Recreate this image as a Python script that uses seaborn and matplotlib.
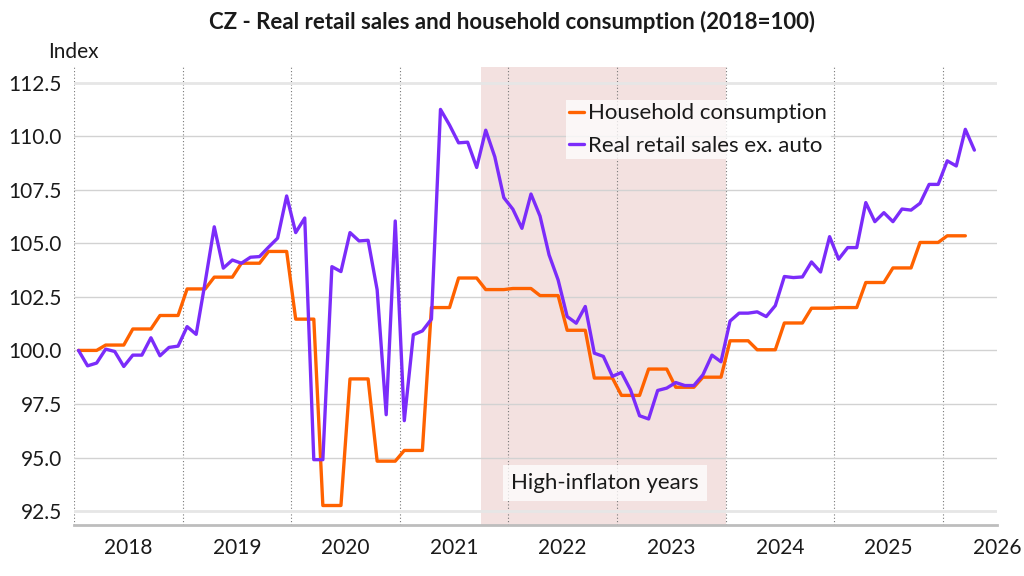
import numpy as np
import pandas as pd
import matplotlib
matplotlib.use("Agg")
import matplotlib.pyplot as plt
import seaborn as sns

# ---------------- data ----------------
title = "CZ - Real retail sales and household consumption (2018=100)"
y_axis_title = "Index"
series_names = ["Household consumption", "Real retail sales ex. auto"]
year_labels = ["2018", "2019", "2020", "2021", "2022", "2023", "2024", "2025", "2026"]
y_ticks = [92.5, 95.0, 97.5, 100.0, 102.5, 105.0, 107.5, 110.0, 112.5]
shade_label = "High-inflaton years"
shade_start_month = 45   # Oct 2021 (months since Jan 2018)
shade_end_month = 72     # end of 2023

# monthly real retail sales ex. auto, Jan 2018 onwards
retail_sales = [
    100.00, 99.28, 99.41, 100.06, 99.95, 99.25, 99.78, 99.78, 100.59, 99.75, 100.14, 100.20,   # 2018
    101.11, 100.75, 103.20, 105.77, 103.84, 104.22, 104.07, 104.35, 104.38, 104.82, 105.24, 107.21,  # 2019
    105.50, 106.18, 94.90, 94.90, 103.91, 103.68, 105.50, 105.11, 105.14, 102.83, 97.00, 106.04,  # 2020
    96.72, 100.73, 100.91, 101.46, 111.25, 110.52, 109.69, 109.72, 108.54, 110.28, 109.04, 107.13,  # 2021
    106.59, 105.70, 107.30, 106.27, 104.46, 103.29, 101.58, 101.27, 102.05, 99.87, 99.72, 98.79,  # 2022
    98.97, 98.16, 96.95, 96.80, 98.13, 98.24, 98.50, 98.36, 98.36, 98.86, 99.78, 99.47,  # 2023
    101.37, 101.74, 101.74, 101.80, 101.58, 102.09, 103.45, 103.40, 103.43, 104.13, 103.66, 105.31,  # 2024
    104.26, 104.80, 104.80, 106.90, 106.01, 106.43, 106.01, 106.60, 106.55, 106.87, 107.75, 107.75,  # 2025
    108.85, 108.61, 110.32, 109.35,  # 2026
]

# household consumption (quarterly values shown for each month), Jan 2018 onwards
household_consumption = [
    100.00, 100.00, 100.00, 100.25, 100.25, 100.25, 101.00, 101.00, 101.00, 101.63, 101.63, 101.63,  # 2018
    102.87, 102.87, 102.87, 103.42, 103.42, 103.42, 104.07, 104.07, 104.07, 104.62, 104.62, 104.62,  # 2019
    101.46, 101.46, 101.46, 92.76, 92.76, 92.76, 98.67, 98.67, 98.67, 94.83, 94.83, 94.83,  # 2020
    95.33, 95.33, 95.33, 102.00, 102.00, 102.00, 103.38, 103.38, 103.38, 102.84, 102.84, 102.84,  # 2021
    102.89, 102.89, 102.89, 102.56, 102.56, 102.56, 100.94, 100.94, 100.94, 98.71, 98.71, 98.71,  # 2022
    97.90, 97.90, 97.90, 99.13, 99.13, 99.13, 98.28, 98.28, 98.28, 98.75, 98.75, 98.75,  # 2023
    100.45, 100.45, 100.45, 100.03, 100.03, 100.03, 101.28, 101.28, 101.28, 101.97, 101.97, 101.97,  # 2024
    102.00, 102.00, 102.00, 103.17, 103.17, 103.17, 103.85, 103.85, 103.85, 105.04, 105.04, 105.04,  # 2025
    105.35, 105.35, 105.35,  # 2026
]

# ---------------- styling ----------------
ORANGE = "#FF6200"
PURPLE = "#7B2CFA"
SHADE = "#F3E1E0"
TEXT = "#1A1A1A"

sns.set_theme(style="white")
plt.rcParams["font.family"] = ["Lato", "DejaVu Sans"]
plt.rcParams["text.color"] = TEXT
plt.rcParams["axes.labelcolor"] = TEXT
plt.rcParams["xtick.color"] = TEXT
plt.rcParams["ytick.color"] = TEXT

# long-form table
frames = []
for name, vals in zip(series_names, [household_consumption, retail_sales]):
    frames.append(pd.DataFrame({
        "month": np.arange(len(vals)) + 0.5,   # centre of each monthly slot
        "value": vals,
        "series": name,
    }))
df = pd.concat(frames, ignore_index=True)

fig = plt.figure(figsize=(10.24, 5.76), dpi=100)
ax = fig.add_axes([74 / 1024, 51 / 576, 923 / 1024, 458 / 576])

ax.axvspan(shade_start_month, shade_end_month, color=SHADE, lw=0, zorder=0)

sns.lineplot(data=df, x="month", y="value", hue="series", hue_order=series_names,
             palette=[ORANGE, PURPLE], linewidth=2.4, ax=ax, zorder=3)

ax.set_xlim(0, 102)
ax.set_ylim(91.85, 113.23)
ax.set_xlabel("")
ax.set_ylabel("")

# y axis
ax.set_yticks(y_ticks)
ax.set_yticklabels([f"{v:.1f}" for v in y_ticks])
ax.tick_params(axis="y", length=0, pad=8.6, labelsize=15)
ax.yaxis.grid(True, color="#D2D2D2", linewidth=1.0)

# x axis: year boundaries as major ticks, labels centred in each year
ax.set_xticks(np.arange(0, 97, 12))
ax.set_xticklabels([])
ax.set_xticks(np.arange(6, 103, 12), minor=True)
ax.set_xticklabels(year_labels, minor=True)
ax.tick_params(axis="x", which="major", length=6, width=1, color="#BDBDBD")
ax.tick_params(axis="x", which="minor", length=0, pad=9.5, labelsize=15)
ax.xaxis.grid(True, which="major", color="#777777", linewidth=0.8, linestyle=(0, (1, 2)))
ax.set_axisbelow(True)

gl = ax.get_ygridlines()
for idx in (0, len(gl) - 1):
    gl[idx].set_color("#E6E6E6")
    gl[idx].set_linewidth(2.0)

for s in ["left", "right", "top"]:
    ax.spines[s].set_visible(False)
ax.spines["bottom"].set_color("#BDBDBD")
ax.spines["bottom"].set_linewidth(2.0)

# legend
handles, labels = ax.get_legend_handles_labels()
leg = ax.legend(handles, labels, loc="upper left", bbox_to_anchor=((566 - 74) / 923, (525 - 100) / 458),
                borderaxespad=0, frameon=True, fancybox=False, facecolor="white", framealpha=0.75,
                edgecolor="none", borderpad=0.15, handlelength=0.68, handletextpad=0.18,
                labelspacing=0.55, fontsize=16)
for line in leg.get_lines():
    line.set_linewidth(2.4)

# shaded period label
ax.text((605 - 74) / 923, (525 - 483) / 458, shade_label, transform=ax.transAxes,
        ha="center", va="center", fontsize=16, zorder=5,
        bbox=dict(boxstyle="square,pad=0.35", fc="white", ec="none", alpha=0.75))

fig.text(0.5, 1 - 22 / 576, title, ha="center", va="center", fontsize=16, fontweight="bold")
fig.text(48 / 1024, 1 - 52 / 576, y_axis_title, ha="left", va="center", fontsize=15)

fig.savefig("out.png", dpi=100)
